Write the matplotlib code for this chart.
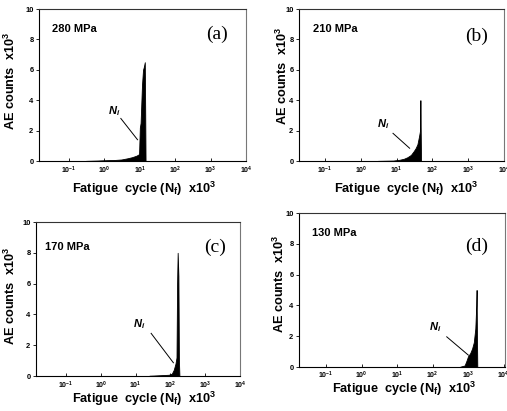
import numpy as np
import matplotlib
matplotlib.use("Agg")
import matplotlib.pyplot as plt


DPI = 100
FIGSIZE = (5.07, 4.11)
FONTSIZE_LABELS = 9.2
FONTSIZE_TICKS = 5.0
LINEWIDTH = 0.8

plt.rcParams['font.family'] = ['Liberation Sans', 'DejaVu Sans']
plt.rcParams['font.weight'] = 'bold'
plt.rcParams['axes.labelweight'] = 'bold'
plt.rcParams['mathtext.fontset'] = 'custom'
plt.rcParams['mathtext.rm'] = 'Liberation Sans:bold'
plt.rcParams['mathtext.bf'] = 'Liberation Sans:bold'
plt.rcParams['mathtext.it'] = 'Liberation Sans:italic:bold'

# AE counts (x10^3) vs fatigue cycle (x10^3 cycles)
cycles_a = [0.3, 0.6, 1.0, 2.0, 3.0, 4.5, 6.0, 8.0, 9.5, 10.0, 10.5, 11.5, 12.3, 13.0, 13.8, 14.2, 14.5]
counts_a = [0.01, 0.03, 0.05, 0.07, 0.1, 0.18, 0.25, 0.35, 0.45, 2.2, 2.5, 5.0, 6.0, 6.2, 6.5, 3.0, 0.0]

cycles_b = [3, 8, 12, 16, 20, 25, 30, 34, 38, 42, 45, 46, 46.5, 47.5, 48]
counts_b = [0.01, 0.03, 0.08, 0.15, 0.25, 0.4, 0.65, 0.85, 1.1, 1.6, 2.0, 4.0, 3.0, 1.0, 0.0]

cycles_c = [25, 40, 60, 90, 110, 125, 140, 150, 156, 162, 170, 176, 182]
counts_c = [0.02, 0.04, 0.06, 0.08, 0.15, 0.4, 0.8, 1.2, 6.0, 8.0, 6.5, 1.0, 0.0]

cycles_d = [600, 800, 900, 1000, 1150, 1300, 1450, 1600, 1700, 1740, 1780, 1820]
counts_d = [0.02, 0.1, 0.4, 0.7, 0.9, 1.2, 1.6, 2.5, 4.0, 5.0, 2.0, 0.0]

stress = ["280 MPa", "210 MPa", "170 MPa", "130 MPa"]
tags = ["(a)", "(b)", "(c)", "(d)"]

# N_i arrow: (label x, label y, line start x, y, line end x, y)
ni_a = (1.9, 3.3, 2.9, 2.8, 8.6, 1.4)
ni_b = (4.3, 2.4, 7.9, 1.82, 23, 0.84)
ni_c = (13, 3.4, 28, 2.77, 122, 0.86)
ni_d = (117, 2.6, 251, 1.96, 1020, 0.77)

xtick_vals = [1e-1, 1e0, 1e1, 1e2, 1e3, 1e4]
xtick_labels = [r"10$^{\mathregular{-1}}$", r"10$^{\mathregular{0}}$", r"10$^{\mathregular{1}}$",
                r"10$^{\mathregular{2}}$", r"10$^{\mathregular{3}}$", r"10$^{\mathregular{4}}$"]
ytick_vals = [0, 2, 4, 6, 8, 10]


def px_rect(left, right, top, bottom):
    W, H = 507, 411
    return [left / W, 1 - bottom / H, (right - left) / W, (bottom - top) / H]


def panel(fig, rect, x, y, ni, label, tag, xlim, tagpos, labpos, ylabpos, xlabpos, xpad=3):
    ax = fig.add_axes(rect)
    ax.fill_between(x, 0, y, color="black", lw=0.6, edgecolor="black")
    ax.set_xscale("log")
    ax.set_xlim(*xlim)
    ax.set_ylim(0, 10)
    ax.set_xticks(xtick_vals)
    ax.set_xticklabels(xtick_labels, fontsize=FONTSIZE_TICKS, fontweight="bold")
    ax.set_yticks(ytick_vals)
    ax.set_yticklabels([str(v) for v in ytick_vals], fontsize=FONTSIZE_TICKS + 0.4,
                       fontweight="bold")
    ax.tick_params(axis="x", which="major", direction="in", length=2.5, width=0.6, pad=xpad)
    ax.tick_params(axis="x", which="minor", direction="in", length=1.5, width=0.5)
    ax.tick_params(axis="y", direction="out", length=2.5, width=0.6, pad=1.5)
    for s in ax.spines.values():
        s.set_linewidth(LINEWIDTH)
    ax.spines["right"].set_color("#777777")
    ax.spines["top"].set_color("#333333")
    ax.set_ylabel(r"AE counts  x10$^{\mathregular{3}}$", fontsize=FONTSIZE_LABELS,
                  fontweight="bold")
    ax.yaxis.set_label_coords(*ylabpos)
    ax.set_xlabel(r"Fatigue  cycle (N$_{\mathregular{f}}$)  x10$^{\mathregular{3}}$",
                  fontsize=FONTSIZE_LABELS, fontweight="bold")
    ax.xaxis.set_label_coords(*xlabpos)
    ax.text(labpos[0], labpos[1], label, transform=ax.transAxes, fontsize=8,
            fontweight="bold", va="center", ha="left")
    ax.text(tagpos[0], tagpos[1], tag, transform=ax.transAxes, fontsize=14,
            family="Liberation Serif", fontweight="normal", va="center", ha="center")
    ax.text(ni[0], ni[1], r"$N_i$", fontsize=8, va="center", ha="center")
    ax.plot([ni[2], ni[4]], [ni[3], ni[5]], color="black", lw=0.7)
    return ax


fig = plt.figure(figsize=FIGSIZE, dpi=DPI)
panel(fig, px_rect(39, 246, 9, 161), cycles_a, counts_a, ni_a, stress[0], tags[0],
      (10 ** -1.85, 1e4), (0.86, 0.83), (0.063, 0.87), (-0.10, 0.53), (0.51, -0.125))
panel(fig, px_rect(299, 504, 9, 161), cycles_b, counts_b, ni_b, stress[1], tags[1],
      (10 ** -1.73, 1e4), (0.865, 0.82), (0.068, 0.87), (-0.044, 0.56), (0.52, -0.125))
panel(fig, px_rect(36, 240, 222, 376), cycles_c, counts_c, ni_c, stress[2], tags[2],
      (10 ** -1.86, 10 ** 3.97), (0.88, 0.835), (0.044, 0.84), (-0.088, 0.52), (0.53, -0.091))
panel(fig, px_rect(299, 505, 213, 367), cycles_d, counts_d, ni_d, stress[3], tags[3],
      (10 ** -1.76, 10 ** 4.04), (0.86, 0.785), (0.064, 0.873), (-0.058, 0.54), (0.51, -0.085),
      xpad=2)

fig.savefig("out.png", dpi=DPI)
plt.close(fig)
